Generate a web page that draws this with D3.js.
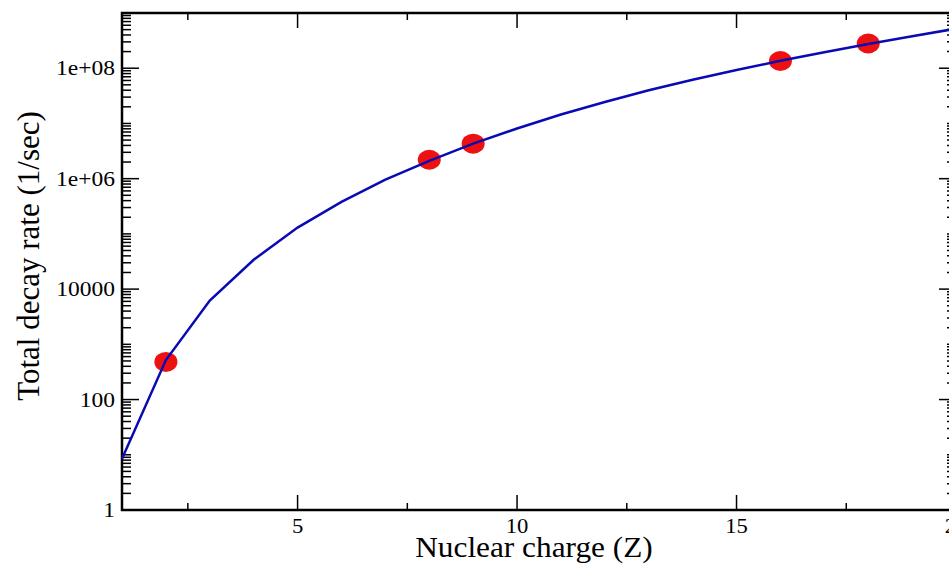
<!DOCTYPE html>
<meta charset="utf-8">
<script src="https://d3js.org/d3.v7.min.js"></script>
<style>
  body { margin: 0; background: #fff; }
  text { font-family: "Liberation Serif", "Times New Roman", serif; fill: #000; }
</style>
<div id="my_dataviz"></div>
<script>

// curve: total decay rate vs nuclear charge
var curveZ = [1, 2, 3, 4, 5, 6, 7, 8, 9, 10, 11, 12, 13, 14, 15, 16, 17, 18, 19, 20];
var curveRate = [8.5, 520, 6200, 34000, 1.3e5, 3.8e5, 9.6e5, 2.1e6, 4.3e6, 8.1e6,
                 1.45e7, 2.45e7, 4.0e7, 6.2e7, 9.3e7, 1.36e8, 1.95e8, 2.75e8, 3.8e8, 5.2e8];

// measured points
var pointZ = [2, 8, 9, 16, 18];
var pointRate = [480, 2.2e6, 4.3e6, 1.35e8, 2.8e8];

var xMajor = [5, 10, 15, 20];
var yMajor = [1, 100, 10000, 1e6, 1e8];
var yLabels = ["1", "100", "10000", "1e+06", "1e+08"];

var margin = {top: 13, right: 0, bottom: 58, left: 122},
    width = 956 - margin.left,
    height = 510 - margin.top;

var svg = d3.select("#my_dataviz")
  .append("svg")
    .attr("width", 949)
    .attr("height", 568)
  .append("g")
    .attr("transform", "translate(" + margin.left + "," + margin.top + ")");

var x = d3.scaleLinear().domain([1, 20]).range([0, width]);
var y = d3.scaleLog().domain([1, 1e9]).range([height, 0]);

// minor ticks
var xMinor = d3.range(2.5, 20, 2.5).filter(function(d){ return d % 5 !== 0; });
var yMinor = [];
for (var e = 0; e < 9; e++) {
  for (var m = 2; m <= 10; m++) {
    var v = m * Math.pow(10, e);
    if (v <= 1e9 && yMajor.indexOf(v) < 0) yMinor.push(v);
  }
}

var ticks = svg.append("g").attr("stroke", "#000").attr("stroke-width", 1.5);

function xt(vals, len) {
  vals.forEach(function(d) {
    ticks.append("line").attr("x1", x(d)).attr("x2", x(d)).attr("y1", height).attr("y2", height - len);
    ticks.append("line").attr("x1", x(d)).attr("x2", x(d)).attr("y1", 0).attr("y2", len);
  });
}
function yt(vals, len) {
  vals.forEach(function(d) {
    ticks.append("line").attr("y1", y(d)).attr("y2", y(d)).attr("x1", 0).attr("x2", len);
    ticks.append("line").attr("y1", y(d)).attr("y2", y(d)).attr("x1", width).attr("x2", width - len);
  });
}
xt(xMajor, 15); xt(xMinor, 7);
yt(yMajor, 17); yt(yMinor, 9);

// frame
svg.append("rect")
  .attr("width", width).attr("height", height)
  .attr("fill", "none").attr("stroke", "#000").attr("stroke-width", 2.5);

// tick labels
svg.selectAll(".xl").data(xMajor).enter().append("text")
  .attr("transform", function(d){ return "translate(" + x(d) + "," + (height + 23) + ") scale(1.08,1)"; })
  .attr("text-anchor", "middle")
  .style("font-size", "21px")
  .text(function(d){ return d; });

svg.selectAll(".yl").data(yMajor).enter().append("text")
  .attr("transform", function(d){ return "translate(-7," + (y(d) + 7) + ") scale(1.12,1)"; })
  .attr("text-anchor", "end")
  .style("font-size", "21px")
  .text(function(d, i){ return yLabels[i]; });

// axis titles
svg.append("text")
  .attr("transform", "translate(" + (534 - margin.left) + "," + (557 - margin.top) + ") scale(1.08,1)")
  .attr("text-anchor", "middle")
  .style("font-size", "29px")
  .text("Nuclear charge (Z)");

svg.append("text")
  .attr("transform", "translate(" + (39 - margin.left) + "," + (256 - margin.top) + ") rotate(-90)")
  .attr("text-anchor", "middle")
  .style("font-size", "31px")
  .text("Total decay rate (1/sec)");

// curve
var line = d3.line()
  .x(function(d, i){ return x(curveZ[i]); })
  .y(function(d){ return y(d); });

svg.append("path")
  .datum(curveRate)
  .attr("fill", "none")
  .attr("stroke", "#0a0ab4")
  .attr("stroke-width", 2.5)
  .attr("d", line);

// points
svg.selectAll("ellipse").data(pointRate).enter().append("ellipse")
  .attr("cx", function(d, i){ return x(pointZ[i]); })
  .attr("cy", function(d){ return y(d); })
  .attr("rx", 11.5).attr("ry", 10)
  .attr("fill", "#ee1111");

// keep the line on top of the markers as in the original
svg.select("path").raise();

</script>
